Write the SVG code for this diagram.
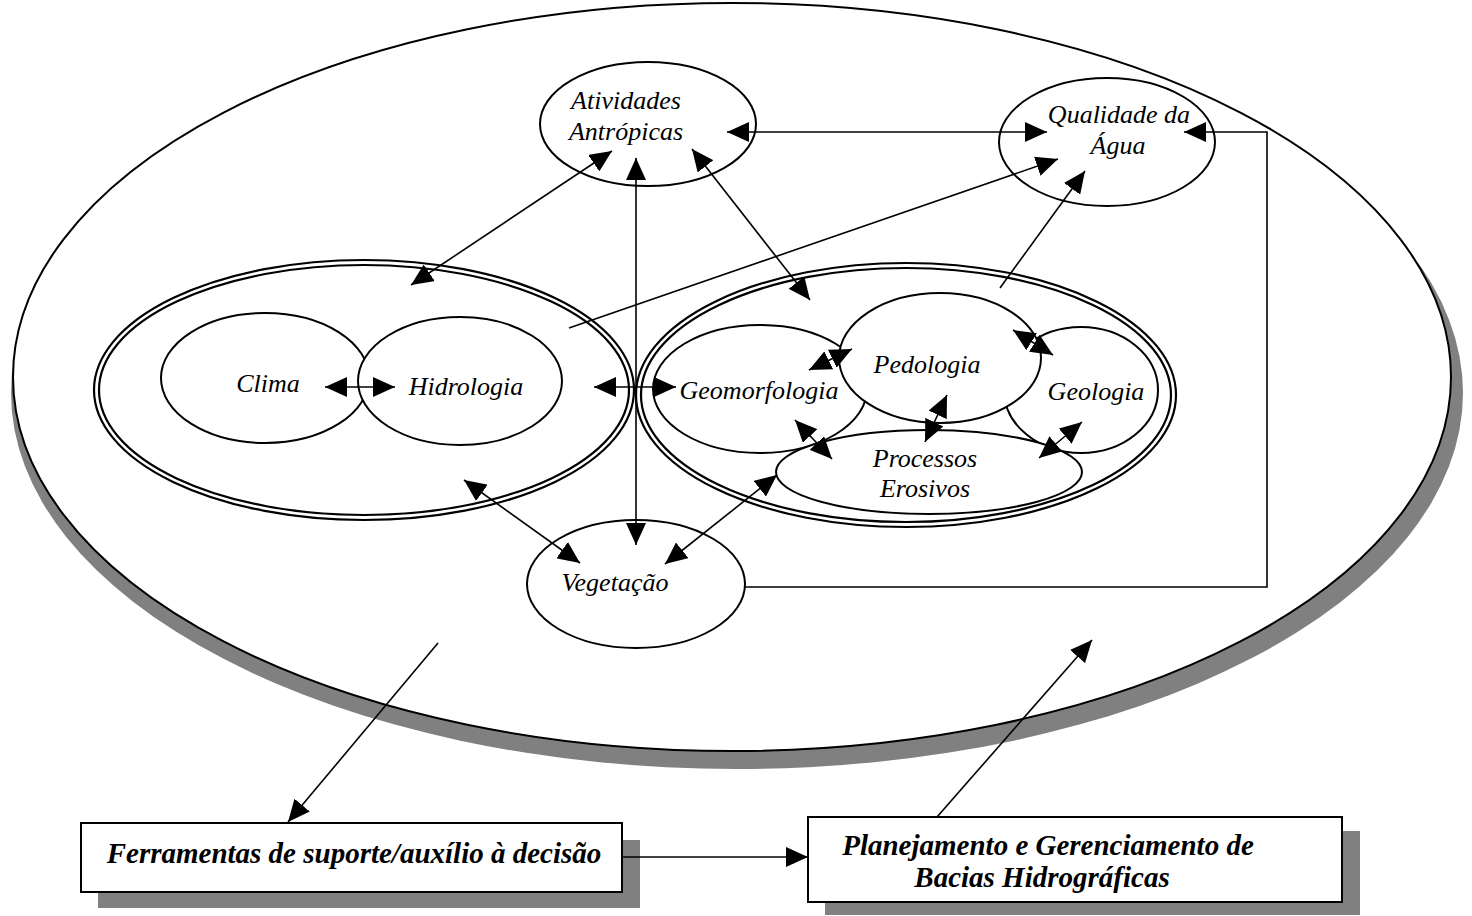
<svg xmlns="http://www.w3.org/2000/svg" width="1472" height="916" viewBox="0 0 1472 916">
<style>
.n{fill:#fff;stroke:#000;stroke-width:2}
.g{fill:#fff;stroke:#000;stroke-width:2.2}
.gi{fill:none;stroke:#000;stroke-width:2.2}
.sh{fill:#808080;stroke:none}
.c{fill:none;stroke:#000;stroke-width:1.6}
.b{marker-start:url(#ah);marker-end:url(#ah)}
.e{marker-end:url(#ah)}
.t{font-family:"Liberation Serif","Times New Roman",serif;font-style:italic;font-size:26px;fill:#000;text-anchor:middle}
.bt{font-family:"Liberation Serif","Times New Roman",serif;font-style:italic;font-weight:bold;font-size:29px;fill:#000;text-anchor:middle}
</style>
<defs>
<marker id="ah" viewBox="0 0 22 20" refX="22" refY="10" markerWidth="22" markerHeight="20" markerUnits="userSpaceOnUse" orient="auto-start-reverse">
<path d="M0,0 L22,10 L0,20 z" fill="#000"/>
</marker>
</defs>
<rect width="1472" height="916" fill="#fff"/>
<g id="sistema">
<ellipse class="sh" cx="737" cy="393" rx="726" ry="376"/>
<ellipse class="n" cx="732" cy="377" rx="719" ry="374"/>
</g>
<g id="grupo-clima-hidrologia">
<ellipse class="g" cx="364" cy="390" rx="270" ry="130"/>
<ellipse class="gi" cx="364" cy="390" rx="265" ry="125"/>
</g>
<g id="grupo-meio-fisico">
<ellipse class="g" cx="906" cy="395" rx="270" ry="132"/>
<ellipse class="gi" cx="906" cy="395" rx="265" ry="127"/>
</g>
<g id="clima">
<ellipse class="n" cx="265" cy="378" rx="104" ry="65"/>
<text class="t" x="268" y="392">Clima</text>
</g>
<g id="hidrologia">
<ellipse class="n" cx="460" cy="381" rx="102" ry="64"/>
<text class="t" x="466" y="395">Hidrologia</text>
</g>
<g id="geomorfologia">
<ellipse class="n" cx="760" cy="389" rx="107" ry="64"/>
<text class="t" x="759" y="399">Geomorfologia</text>
</g>
<g id="geologia">
<ellipse class="n" cx="1081" cy="390" rx="77" ry="63"/>
<text class="t" x="1096" y="400">Geologia</text>
</g>
<g id="pedologia">
<ellipse class="n" cx="940" cy="358" rx="101" ry="65"/>
<text class="t" x="927" y="373">Pedologia</text>
</g>
<g id="processos-erosivos">
<ellipse class="n" cx="929" cy="472" rx="153" ry="42"/>
<text class="t" x="925" y="467">Processos</text>
<text class="t" x="925" y="497">Erosivos</text>
</g>
<g id="atividades-antropicas">
<ellipse class="n" cx="648" cy="124" rx="108" ry="62"/>
<text class="t" x="626" y="109">Atividades</text>
<text class="t" x="626" y="140">Antrópicas</text>
</g>
<g id="qualidade-agua">
<ellipse class="n" cx="1107" cy="142" rx="108" ry="64"/>
<text class="t" x="1119" y="123">Qualidade da</text>
<text class="t" x="1118" y="154">Água</text>
</g>
<g id="vegetacao">
<ellipse class="n" cx="636" cy="584" rx="109" ry="64"/>
<text class="t" x="615" y="591">Vegetação</text>
</g>
<g id="ferramentas">
<rect class="sh" x="98" y="840" width="542" height="68"/>
<rect class="n" x="81" y="823" width="541" height="69"/>
<text class="bt" x="354" y="863">Ferramentas de suporte/auxílio à decisão</text>
</g>
<g id="planejamento">
<rect class="sh" x="825" y="831" width="535" height="84"/>
<rect class="n" x="808" y="817" width="534" height="85"/>
<text class="bt" x="1048" y="855">Planejamento e Gerenciamento de</text>
<text class="bt" x="1042" y="887">Bacias Hidrográficas</text>
</g>
<g id="connectors">
<path class="c b" d="M727,132 L1047,132"/>
<path class="c b" d="M612,151 L411,285"/>
<path class="c b" d="M692,149 L810,300"/>
<path class="c b" d="M636,158 L636,545"/>
<path class="c e" d="M569,328 L1058,159"/>
<path class="c e" d="M1000,288 L1085,171"/>
<path class="c e" d="M744,587 L1267,587 L1267,132 L1184,132"/>
<path class="c b" d="M325,387 L395,387"/>
<path class="c b" d="M594,387 L676,387"/>
<path class="c b" d="M464,480 L580,563"/>
<path class="c b" d="M665,564 L777,475"/>
<path class="c b" d="M809,370 L852,349"/>
<path class="c b" d="M795,420 L832,459"/>
<path class="c b" d="M947,395 L925,442"/>
<path class="c b" d="M1013,330 L1053,355"/>
<path class="c b" d="M1082,422 L1039,458"/>
<path class="c e" d="M438,643 L288,822"/>
<path class="c e" d="M622,857 L808,857"/>
<path class="c e" d="M937,817 L1092,640"/>
</g>
</svg>
